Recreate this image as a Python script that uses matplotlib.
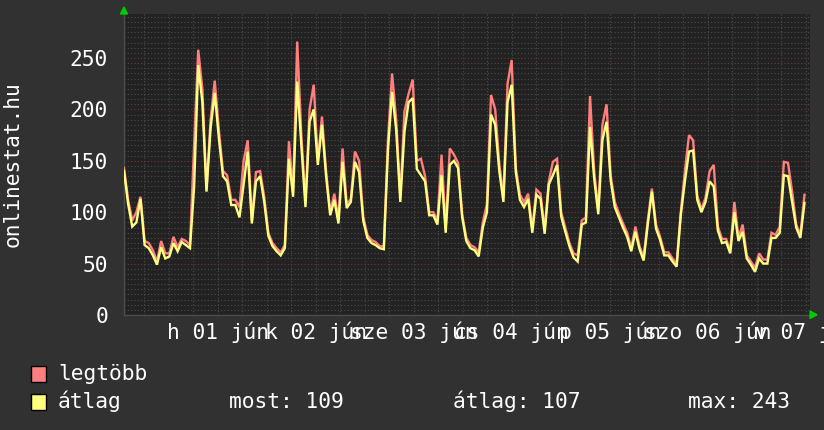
import numpy as np
import matplotlib
matplotlib.use("Agg")
import matplotlib.pyplot as plt
from matplotlib.patches import Rectangle, Polygon

# ---------------- data ----------------
# hourly samples starting at the left edge of the plot
legtobb = [143, 112, 92, 100, 115, 72, 70, 63, 52, 72, 60, 60, 76, 66, 74, 72, 68, 165, 258, 220,
           122, 190, 228, 180, 140, 136, 112, 112, 105,
           150, 170, 92, 139, 140, 115, 80, 70, 65, 61, 68, 169, 120, 266, 175, 110, 200, 224, 150,
           193, 140, 100, 118, 93, 162, 108, 113, 159,
           150, 96, 78, 73, 71, 67, 67, 170, 235, 190, 115, 198, 215, 229, 150, 152, 135, 100, 100,
           92, 156, 84, 162, 156, 148, 98, 75, 68, 66,
           61, 90, 108, 214, 200, 147, 115, 225, 248, 143, 117, 110, 118, 84, 122, 118, 83, 130, 149,
           152, 100, 85, 70, 60, 58, 92, 95,
           213, 140, 102, 185, 205, 136, 110, 99, 89, 80, 65, 86, 67, 56, 92, 123, 88, 76, 61, 61,
           55, 50, 100, 140, 175, 170, 116, 103, 114,
           140, 146, 86, 74, 74, 63, 110, 75, 88, 58, 52, 46, 60, 54, 54, 80, 78, 86, 149, 148, 120,
           88, 78, 117]
atlag = [140, 108, 86, 90, 113, 68, 65, 58, 49, 66, 55, 57, 70, 62, 71, 68, 65, 125, 243, 207,
         120, 182, 216, 172, 135, 130, 107, 107, 95,
         127, 159, 89, 130, 135, 110, 77, 67, 62, 58, 65, 152, 115, 227, 165, 105, 188, 200, 146,
         185, 135, 97, 112, 89, 149, 104, 110, 149,
         139, 92, 75, 70, 68, 65, 64, 160, 217, 180, 110, 178, 207, 211, 142, 136, 130, 97, 97,
         88, 136, 80, 146, 150, 143, 95, 72, 65, 63,
         57, 85, 100, 195, 185, 140, 110, 207, 224, 139, 112, 105, 113, 80, 117, 113, 79, 127, 136,
         146, 96, 81, 67, 56, 52, 88, 90,
         183, 133, 98, 170, 188, 131, 105, 95, 85, 76, 62, 81, 64, 53, 88, 120, 84, 73, 58, 58,
         52, 47, 97, 130, 159, 160, 112, 100, 110,
         130, 125, 82, 70, 71, 60, 100, 72, 81, 55, 49, 42, 55, 50, 50, 75, 75, 80, 136, 135, 110,
         85, 75, 109]
step_hours = 1.01
first_midnight = 10.9          # hours after the start of the graph
span_hours = 168
day_labels = ["h 01 jún", "k 02 jún", "sze 03 jún", "cs 04 jún",
              "p 05 jún", "szo 06 jún", "v 07 jún"]
y_ticks = [0, 50, 100, 150, 200, 250]
y_max = 292.8
legend_names = ["legtöbb", "átlag"]
most_val, atlag_val, max_val = 109, 107, 243

# ---------------- style ----------------
W, H = 824, 430
BG = "#313131"
CANVAS = "#222222"
PINK = "#ff7f7f"
YELLOW = "#ffff7f"
FS = 15.3
plt.rcParams["font.family"] = ["DejaVu Sans Mono", "DejaVu Sans"]

fig = plt.figure(figsize=(W / 100, H / 100), dpi=100)
fig.patch.set_facecolor(BG)
L, R, T, B = 124, 810, 14, 315
ax = fig.add_axes([L / W, 1 - B / H, (R - L) / W, (B - T) / H])
ax.set_facecolor(CANVAS)

t = np.arange(len(atlag)) * step_hours
ax.set_xlim(0, span_hours)
ax.set_ylim(0, y_max)

# grid
dot = (0, (1, 2))
for v in np.arange(5, y_max, 5):
    major = (v % 50 == 0)
    ax.axhline(v, color="#703434" if major else "#4c4c4c", lw=0.8, ls=dot, zorder=1)
hours = np.arange(first_midnight - 24, span_hours + 1, 6)
for hh in hours:
    if 0 < hh < span_hours:
        major = abs(((hh - first_midnight) % 24)) < 1e-6
        ax.axvline(hh, color="#703434" if major else "#4c4c4c", lw=0.8, ls=dot, zorder=1)

ax.plot(t, legtobb, color=PINK, lw=1.7, zorder=3, solid_joinstyle="miter")
ax.plot(t, atlag, color=YELLOW, lw=1.7, zorder=4, solid_joinstyle="miter")

for s in ["top", "right"]:
    ax.spines[s].set_visible(False)
for s in ["left", "bottom"]:
    ax.spines[s].set_color("#4d4d4d")
    ax.spines[s].set_linewidth(1)

ax.set_xticks([])
ax.set_yticks(y_ticks)
ax.set_yticklabels([str(v) for v in y_ticks])
ax.tick_params(axis="y", length=0, pad=11.5, labelsize=FS, labelcolor="white")

for i, lab in enumerate(day_labels):
    noon = first_midnight + 12 + 24 * i
    ax.text(noon, -17 / (B - T), lab, transform=ax.get_xaxis_transform(),
            ha="center", va="center", color="white", fontsize=FS, clip_on=False)

fig.text(13 / W, 1 - 164 / H, "onlinestat.hu", rotation=90, ha="center", va="center",
         color="white", fontsize=FS)

# axis arrows
def px(x, y):
    return (x / W, 1 - y / H)
fig.patches.append(Polygon([px(120.5, 14), px(127.5, 14), px(124, 7)], closed=True,
                           transform=fig.transFigure, color="#00cc00"))
fig.patches.append(Polygon([px(810, 311), px(810, 318.5), px(817, 314.75)], closed=True,
                           transform=fig.transFigure, color="#00cc00"))

# legend
for i, (name, col) in enumerate(zip(legend_names, [PINK, YELLOW])):
    yc = 373.5 + 28 * i
    fig.patches.append(Rectangle(px(31.5, yc + 8), 15 / W, 16 / H, transform=fig.transFigure,
                                 facecolor=col, edgecolor="black", lw=1))
    fig.text(58 / W, 1 - yc / H, name, ha="left", va="center", color="white", fontsize=FS)

yc = 401.5
fig.text(229 / W, 1 - yc / H, f"most: {most_val}", ha="left", va="center", color="white", fontsize=FS)
fig.text(453 / W, 1 - yc / H, f"átlag: {atlag_val}", ha="left", va="center", color="white", fontsize=FS)
fig.text(688 / W, 1 - yc / H, f"max: {max_val}", ha="left", va="center", color="white", fontsize=FS)

fig.savefig("out.png", dpi=100, facecolor=BG)
